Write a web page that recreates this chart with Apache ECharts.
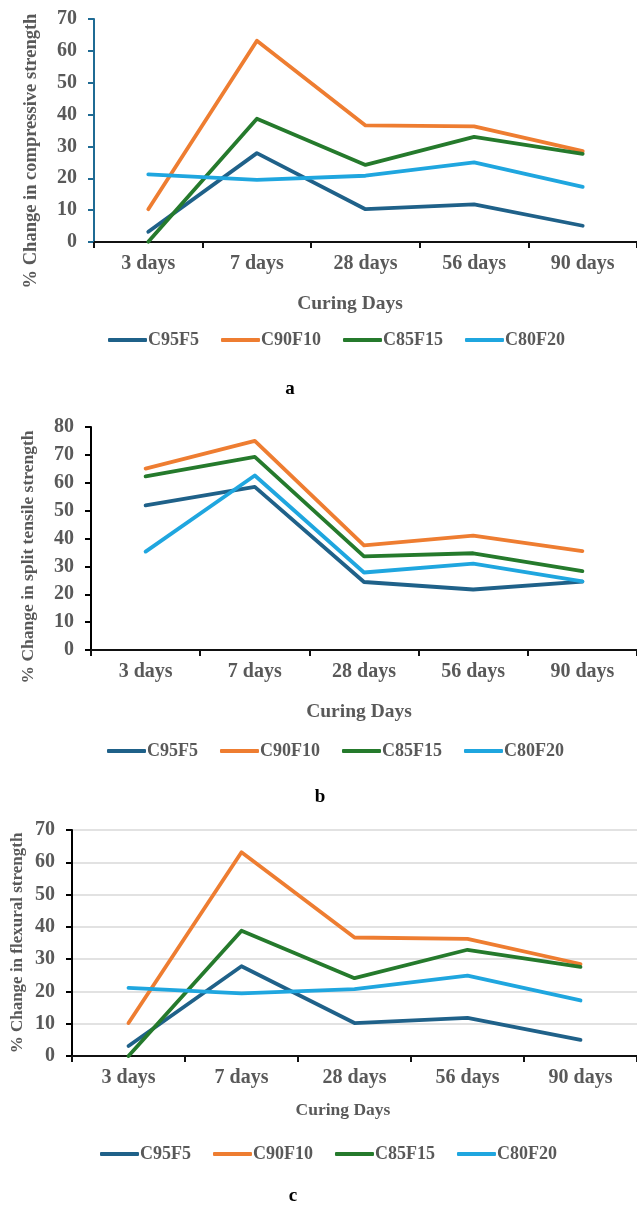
<!DOCTYPE html>
<html>
<head>
<meta charset="utf-8">
<script src="https://cdn.jsdelivr.net/npm/echarts@6/dist/echarts.min.js"></script>
<style>
html,body{margin:0;padding:0;background:#fff;}
#chart{width:637px;height:1205px;}
</style>
</head>
<body>
<div id="chart"></div>
<script>
// ---- data ----
const categories = ['3 days', '7 days', '28 days', '56 days', '90 days'];
const seriesNames = ['C95F5', 'C90F10', 'C85F15', 'C80F20'];

// (a) compressive strength
const compC95F5  = [3.2, 27.9, 10.3, 11.8, 5.1];
const compC90F10 = [10.3, 63.2, 36.6, 36.3, 28.5];
const compC85F15 = [0.1, 38.7, 24.2, 33.0, 27.7];
const compC80F20 = [21.2, 19.5, 20.8, 25.0, 17.3];

// (b) split tensile strength
const splitC95F5  = [51.9, 58.5, 24.4, 21.7, 24.5];
const splitC90F10 = [65.1, 75.0, 37.5, 41.0, 35.5];
const splitC85F15 = [62.3, 69.3, 33.6, 34.7, 28.3];
const splitC80F20 = [35.3, 62.6, 27.8, 31.0, 24.6];

// (c) flexural strength
const flexC95F5  = [3.1, 27.8, 10.2, 11.8, 5.0];
const flexC90F10 = [10.2, 63.1, 36.7, 36.3, 28.5];
const flexC85F15 = [0.0, 38.8, 24.1, 32.9, 27.6];
const flexC80F20 = [21.1, 19.4, 20.7, 24.9, 17.2];

const yTitles = ['% Change in compressive strength', '% Change in split tensile strength', '% Change in flexural strength'];
const xTitle = 'Curing Days';
const panelLabels = ['a', 'b', 'c'];

// ---- styles ----
const colors = ['#1f6189', '#ee7d31', '#257a2c', '#1fa6df'];
const FONT = '"Liberation Serif","Times New Roman",serif';
const GRAY = '#595959';

const panels = [
  { data: [compC95F5, compC90F10, compC85F15, compC80F20], max: 70,
    grid: { left: 94, top: 19, width: 555, height: 223 }, yAxisColor: '#1f6b94', grid2: false,
    yTitle: { x: 31, y: 151, size: 18.5 }, xTitle: { x: 350, y: 304, size: 19.5 },
    legend: { left: 103, top: 336 }, label: { x: 290, y: 389 } },
  { data: [splitC95F5, splitC90F10, splitC85F15, splitC80F20], max: 80,
    grid: { left: 91, top: 427, width: 555, height: 223 }, yAxisColor: '#000', grid2: false,
    yTitle: { x: 28, y: 557, size: 17.5 }, xTitle: { x: 359, y: 712, size: 19.5 },
    legend: { left: 102, top: 747 }, label: { x: 320, y: 797 } },
  { data: [flexC95F5, flexC90F10, flexC85F15, flexC80F20], max: 70,
    grid: { left: 72, top: 830, width: 568, height: 226 }, yAxisColor: '#000', grid2: true,
    yTitle: { x: 18, y: 943, size: 17 }, xTitle: { x: 343, y: 1110, size: 17.5 },
    legend: { left: 95, top: 1150 }, label: { x: 293, y: 1196 } }
];

const option = {
  animation: false,
  backgroundColor: '#fff',
  grid: [], xAxis: [], yAxis: [], series: [], legend: [], graphic: []
};

panels.forEach((p, i) => {
  option.grid.push(Object.assign({ containLabel: false }, p.grid));
  option.xAxis.push({
    type: 'category', gridIndex: i, data: categories, boundaryGap: true,
    axisLine: { show: true, lineStyle: { color: '#111', width: 2 } },
    axisTick: { show: true, inside: false, length: 6, alignWithLabel: false, lineStyle: { color: '#111', width: 2 } },
    axisLabel: { margin: 12, color: GRAY, fontFamily: FONT, fontWeight: 'bold', fontSize: 20 },
    splitLine: { show: false }
  });
  option.yAxis.push({
    type: 'value', gridIndex: i, min: 0, max: p.max, interval: 10,
    axisLine: { show: true, lineStyle: { color: p.yAxisColor, width: 2 } },
    axisTick: { show: true, length: 6, lineStyle: { color: p.yAxisColor, width: 2 } },
    axisLabel: { margin: 17, color: GRAY, fontFamily: FONT, fontWeight: 'bold', fontSize: 20 },
    splitLine: { show: p.grid2, lineStyle: { color: '#d9d9d9', width: 1.5 } }
  });
  seriesNames.forEach((name, k) => {
    option.series.push({
      name: name, type: 'line', xAxisIndex: i, yAxisIndex: i,
      data: p.data[k], showSymbol: false, symbol: 'none', clip: false,
      lineStyle: { color: colors[k], width: 3.8, cap: 'round', join: 'round' },
      itemStyle: { color: colors[k] }, z: 3
    });
  });
  option.legend.push({
    data: seriesNames, left: p.legend.left, top: p.legend.top - 10,
    icon: 'roundRect', itemWidth: 39, itemHeight: 4, itemGap: 22,
    textStyle: { color: GRAY, fontFamily: FONT, fontWeight: 'bold', fontSize: 18, padding: [0, 0, 0, -4] },
    selectedMode: false
  });
  option.graphic.push({
    type: 'text', x: p.yTitle.x, y: p.yTitle.y, rotation: Math.PI / 2,
    style: { text: yTitles[i], fill: GRAY, font: 'bold ' + p.yTitle.size + 'px ' + FONT, align: 'center', verticalAlign: 'middle' }
  });
  option.graphic.push({
    type: 'text', x: p.xTitle.x, y: p.xTitle.y,
    style: { text: xTitle, fill: GRAY, font: 'bold ' + p.xTitle.size + 'px ' + FONT, align: 'center', verticalAlign: 'middle' }
  });
  option.graphic.push({
    type: 'text', x: p.label.x, y: p.label.y,
    style: { text: panelLabels[i], fill: '#000', font: 'bold 19px ' + FONT, align: 'center', verticalAlign: 'middle' }
  });
});

const chart = echarts.init(document.getElementById('chart'), null, { renderer: 'canvas' });
chart.setOption(option);
</script>
</body>
</html>
